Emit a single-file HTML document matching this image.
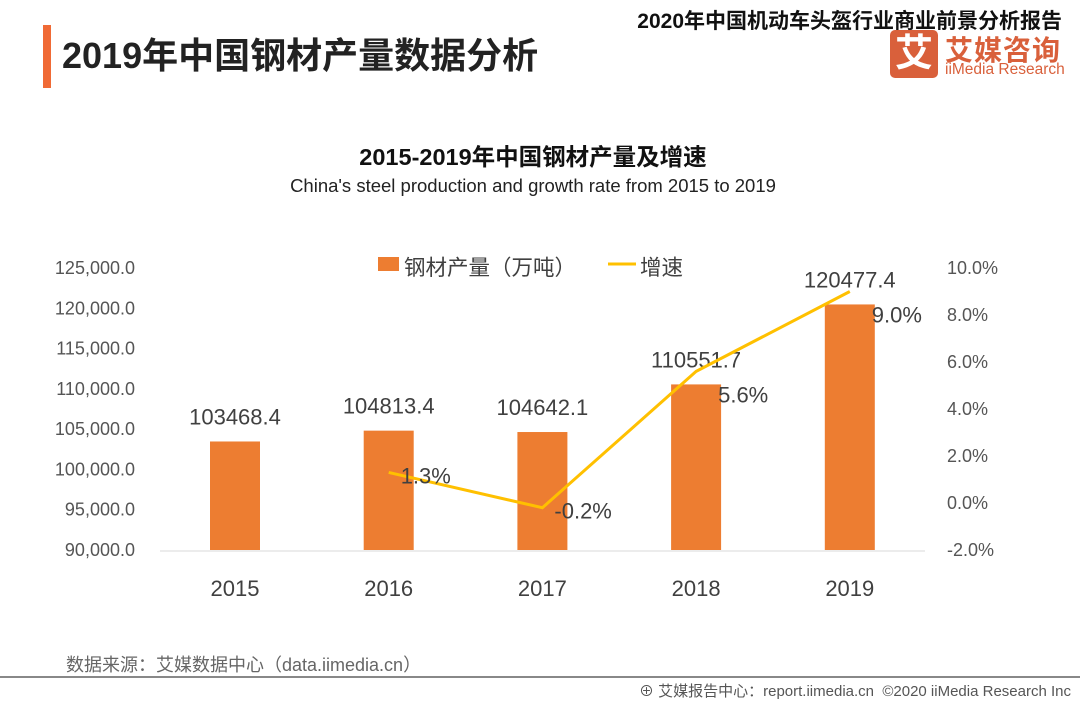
<!DOCTYPE html>
<html><head><meta charset="utf-8"><style>
body{margin:0;width:1080px;height:702px;background:#fff;overflow:hidden;position:relative;font-family:"Liberation Sans","Noto Sans CJK SC",sans-serif}
.a{position:absolute;white-space:nowrap}
</style></head><body>
<div class="a" style="left:43px;top:25px;width:8px;height:63px;background:#f06a35"></div>
<div class="a" style="left:62px;top:27px;font-size:36px;font-weight:bold;color:#222">2019年中国钢材产量数据分析</div>
<div class="a" style="right:18px;top:5px;font-size:21px;font-weight:bold;color:#111">2020年中国机动车头盔行业商业前景分析报告</div>
<div class="a" style="left:890px;top:30px;width:48px;height:48px;background:#d9603b;border-radius:5px;color:#fff;font-size:38px;font-weight:bold;text-align:center;line-height:48px">艾</div>
<div class="a" style="left:945px;top:29px;font-size:28px;font-weight:bold;color:#d9603b;letter-spacing:1px">艾媒咨询</div>
<div class="a" style="left:945px;top:61px;font-size:15.5px;color:#d9603b">iiMedia Research</div>
<div class="a" style="left:0;width:1066px;text-align:center;top:138px;font-size:23.5px;font-weight:bold;color:#111">2015-2019年中国钢材产量及增速</div>
<div class="a" style="left:0;width:1066px;text-align:center;top:175px;font-size:18.5px;color:#222">China's steel production and growth rate from 2015 to 2019</div>
<svg class="a" style="left:0;top:0" width="1080" height="702">
<g id="g"></g>
</svg>
<div class="a" style="left:66px;top:651px;font-size:18px;color:#666">数据来源：艾媒数据中心（data.iimedia.cn）</div>
<div class="a" style="left:0;top:676px;width:1080px;height:2px;background:#888"></div>
<div class="a" style="right:9px;top:680px;font-size:15px;color:#555">⊕ 艾媒报告中心：report.iimedia.cn &nbsp;©2020 iiMedia Research Inc</div>
<script>
const years=["2015","2016","2017","2018","2019"];
const output=[103468.4,104813.4,104642.1,110551.7,120477.4];
const growth=[null,1.3,-0.2,5.6,9.0];
const leftTicks=[90000,95000,100000,105000,110000,115000,120000,125000];
const rightTicks=[-2,0,2,4,6,8,10];
const g=document.getElementById('g');const NS='http://www.w3.org/2000/svg';
const yTop=268,yBot=550;
const yL=v=>yBot-(v-90000)/35000*(yBot-yTop);
const yR=v=>yBot-(v+2)/12*(yBot-yTop);
const xC=i=>235+i*153.7;
function mk(t,a,txt){const e=document.createElementNS(NS,t);for(const k in a)e.setAttribute(k,a[k]);if(txt!=null)e.textContent=txt;g.appendChild(e);return e;}
let e=mk('line',{x1:160,x2:925,y1:yBot+1,y2:yBot+1,stroke:'#d9d9d9','stroke-width':1});

leftTicks.forEach(v=>{const t=mk('text',{x:135,y:yL(v)+6,'text-anchor':'end','font-size':18,fill:'#555'},v.toLocaleString('en-US',{minimumFractionDigits:1}));
});
rightTicks.forEach(v=>{const t=mk('text',{x:947,y:yR(v)+6,'font-size':18,fill:'#555'},v.toFixed(1)+'%');
});
years.forEach((y,i)=>{const x=xC(i);
const r=mk('rect',{x:x-25,y:yL(output[i]),width:50,height:yBot-yL(output[i]),fill:'#ed7d31'});

const l=mk('text',{x:x,y:yL(output[i])-17,'text-anchor':'middle','font-size':22,fill:'#404040'},output[i].toFixed(1));

const xl=mk('text',{x:x,y:596,'text-anchor':'middle','font-size':22,fill:'#404040'},y);
});
let pts=[];growth.forEach((v,i)=>{if(v!=null)pts.push([xC(i),yR(v)]);});
const pl=mk('polyline',{points:pts.map(p=>p.join(',')).join(' '),fill:'none',stroke:'#ffc000','stroke-width':3});

growth.forEach((v,i)=>{if(v==null)return;const hi=i>=3;const t=mk('text',{x:xC(i)+(hi?22:12),y:yR(v)+(hi?31:11),'font-size':22,fill:'#404040'},v.toFixed(1)+'%');
});
const lr=mk('rect',{x:378,y:257,width:21,height:14,fill:'#ed7d31'});

const lt=mk('text',{x:404,y:275,'font-size':21.5,fill:'#404040'},'钢材产量（万吨）');

const ll=mk('line',{x1:608,x2:636,y1:264,y2:264,stroke:'#ffc000','stroke-width':3});

const lt2=mk('text',{x:640,y:275,'font-size':21.5,fill:'#404040'},'增速');

</script>
</body></html>
